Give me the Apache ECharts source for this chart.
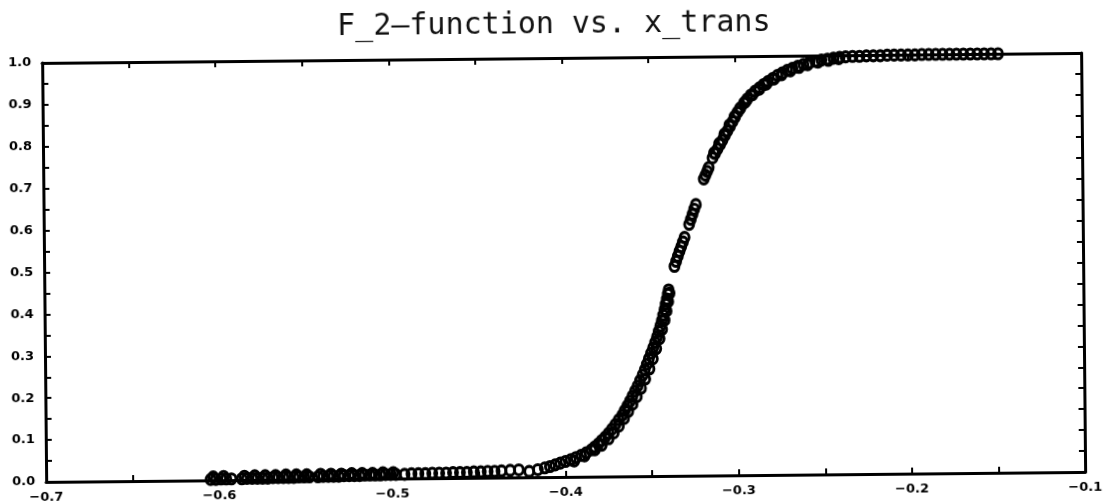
<!DOCTYPE html>
<html>
<head>
<meta charset="utf-8">
<script src="https://cdn.jsdelivr.net/npm/echarts@6/dist/echarts.min.js"></script>
<style>
  html, body { margin: 0; padding: 0; background: #fff; overflow: hidden; }
  /* the scanned original sits slightly tilted */
  #chart { width: 1112px; height: 504px; transform: rotate(-0.55deg); }
</style>
</head>
<body>
<div id="chart"></div>
<script>
// x_trans values (tail, rise, upper shoulder, then the second strand of the band)
var xTrans = [
  -0.605, -0.602, -0.599, -0.596, -0.593, -0.587, -0.584, -0.581, -0.578, -0.575,
  -0.572, -0.569, -0.566, -0.563, -0.560, -0.557, -0.554, -0.551, -0.548, -0.543,
  -0.540, -0.537, -0.534, -0.531, -0.528, -0.525, -0.522, -0.519, -0.516, -0.513,
  -0.510, -0.507, -0.504, -0.501, -0.498, -0.493, -0.489, -0.485, -0.481, -0.477,
  -0.473, -0.469, -0.465, -0.461, -0.457, -0.453, -0.449, -0.445, -0.441, -0.437,
  -0.432, -0.427, -0.421, -0.416,
  -0.412, -0.409, -0.406, -0.403, -0.400, -0.397, -0.394, -0.391, -0.388, -0.385,
  -0.383, -0.381, -0.379, -0.377, -0.375, -0.373, -0.371, -0.369, -0.367, -0.3655,
  -0.364, -0.3625, -0.361, -0.3595, -0.358, -0.3565, -0.355, -0.3537, -0.3525, -0.3513,
  -0.350, -0.3488, -0.3476, -0.3465, -0.3455, -0.3445, -0.3436, -0.3428, -0.342, -0.3413,
  -0.3406, -0.340, -0.3395,
  -0.336, -0.335, -0.334, -0.333, -0.332, -0.331, -0.330,
  -0.3273, -0.3263, -0.3253, -0.3243, -0.3233,
  -0.3186, -0.3176, -0.3166, -0.3157,
  -0.3134, -0.3120, -0.3105, -0.3090, -0.3076, -0.3062, -0.3047, -0.3032, -0.3017, -0.3002,
  -0.2988, -0.2970, -0.2950, -0.2930, -0.2910, -0.2885, -0.2860, -0.2835, -0.2810, -0.2783,
  -0.2755, -0.2727, -0.2698, -0.2668, -0.2636, -0.2604, -0.2570, -0.2535, -0.2500, -0.2465,
  -0.2430, -0.2395, -0.2360, -0.2320, -0.228, -0.224, -0.220, -0.216, -0.212, -0.208,
  -0.204, -0.200, -0.196, -0.192, -0.188, -0.184, -0.180, -0.176, -0.172, -0.168,
  -0.164, -0.160, -0.156, -0.152, -0.148,
  -0.6035, -0.5975, -0.5855, -0.5795, -0.5735, -0.5675, -0.5615, -0.5555, -0.5495, -0.5415,
  -0.5355, -0.5295, -0.5235, -0.5175, -0.5115, -0.5055, -0.4995,
  -0.395, -0.389, -0.383, -0.379, -0.375, -0.372, -0.369, -0.366, -0.3635, -0.361,
  -0.3585, -0.356, -0.3535, -0.351, -0.349, -0.347, -0.345, -0.3435, -0.342, -0.3408,
  -0.3398, -0.339,
  -0.3125, -0.3095, -0.3065, -0.3035, -0.3005, -0.2975, -0.294, -0.290, -0.286, -0.282,
  -0.2775, -0.273, -0.268, -0.263, -0.258, -0.252, -0.246, -0.240
];
// F_2 values at those points
var f2 = [
  0.002, 0.002, 0.003, 0.003, 0.003, 0.003, 0.004, 0.004, 0.004, 0.004,
  0.004, 0.005, 0.005, 0.005, 0.005, 0.005, 0.006, 0.006, 0.006, 0.006,
  0.007, 0.007, 0.007, 0.007, 0.008, 0.008, 0.008, 0.008, 0.009, 0.009,
  0.009, 0.009, 0.010, 0.010, 0.010, 0.010, 0.011, 0.011, 0.011, 0.012,
  0.012, 0.012, 0.013, 0.013, 0.013, 0.014, 0.014, 0.015, 0.015, 0.016,
  0.017, 0.018, 0.014, 0.018,
  0.022, 0.025, 0.029, 0.033, 0.037, 0.041, 0.046, 0.051, 0.057, 0.064,
  0.071, 0.078, 0.086, 0.094, 0.103, 0.113, 0.124, 0.135, 0.146, 0.157,
  0.168, 0.179, 0.191, 0.203, 0.215, 0.228, 0.241, 0.254, 0.267, 0.280,
  0.293, 0.306, 0.319, 0.332, 0.345, 0.358, 0.371, 0.384, 0.397, 0.410,
  0.422, 0.434, 0.444,
  0.500, 0.512, 0.524, 0.536, 0.547, 0.558, 0.569,
  0.600, 0.612, 0.624, 0.636, 0.647,
  0.708, 0.717, 0.726, 0.735,
  0.758, 0.768, 0.779, 0.790, 0.800, 0.811, 0.822, 0.833, 0.844, 0.855,
  0.866, 0.877, 0.888, 0.898, 0.907, 0.916, 0.924, 0.932, 0.939, 0.946,
  0.953, 0.959, 0.965, 0.970, 0.975, 0.979, 0.983, 0.986, 0.989, 0.991,
  0.993, 0.995, 0.996, 0.997, 0.997, 0.998, 0.998, 0.998, 0.999, 0.999,
  0.999, 0.999, 0.999, 1.000, 1.000, 1.000, 1.000, 1.000, 1.000, 1.000,
  1.000, 1.000, 1.000, 1.000, 1.000,
  0.008, 0.009, 0.009, 0.010, 0.010, 0.010, 0.011, 0.011, 0.011, 0.012,
  0.012, 0.012, 0.013, 0.013, 0.013, 0.014, 0.014,
  0.038, 0.050, 0.064, 0.075, 0.090, 0.104, 0.120, 0.138, 0.155, 0.172,
  0.190, 0.210, 0.232, 0.256, 0.280, 0.304, 0.328, 0.350, 0.372, 0.394,
  0.416, 0.436,
  0.770, 0.792, 0.814, 0.836, 0.856, 0.874, 0.892, 0.908, 0.921, 0.933,
  0.945, 0.955, 0.964, 0.972, 0.978, 0.984, 0.988, 0.992
];

var points = [];
for (var i = 0; i < xTrans.length; i++) {
  points.push([xTrans[i], f2[i]]);
}

var myChart = echarts.init(document.getElementById('chart'));

var labelStyle = {
  color: '#000',
  fontFamily: 'DejaVu Sans',
  fontWeight: 'bold',
  fontSize: 13
};
function fmt(v) {
  return v.toFixed(1).replace('-', '\u2212');
}
// one side of the frame: same scale, inward ticks, optional labels
function frameAxis(pos, min, max, showLabel, margin) {
  return {
    type: 'value',
    position: pos,
    min: min,
    max: max,
    interval: 0.1,
    axisLine: { show: true, onZero: false, lineStyle: { color: '#000', width: 3 } },
    axisTick: { show: true, inside: true, length: 6, lineStyle: { color: '#000', width: 2 } },
    minorTick: { show: true, splitNumber: 2, length: 6, lineStyle: { color: '#000', width: 2 } },
    splitLine: { show: false },
    axisLabel: Object.assign({ show: showLabel, margin: margin, formatter: fmt }, labelStyle)
  };
}

option = {
  animation: false,
  backgroundColor: '#fff',
  title: {
    text: 'F_2\u2014function vs. x_trans',
    left: 'center',
    top: 5,
    textStyle: {
      fontFamily: 'DejaVu Sans Mono',
      fontWeight: 'normal',
      fontSize: 30,
      color: '#111'
    }
  },
  grid: { left: 44, right: 29, top: 58, bottom: 27 },
  xAxis: [
    frameAxis('bottom', -0.7, -0.1, true, 9),
    frameAxis('top', -0.7, -0.1, false, 9)
  ],
  yAxis: [
    frameAxis('left', 0, 1, true, 11),
    frameAxis('right', 0, 1, false, 11)
  ],
  series: [{
    type: 'scatter',
    xAxisIndex: 0,
    yAxisIndex: 0,
    clip: false,
    data: points,
    symbol: 'circle',
    symbolSize: [9, 10],
    itemStyle: {
      color: 'transparent',
      borderColor: '#000',
      borderWidth: 3,
      opacity: 1
    }
  }]
};

myChart.setOption(option);
</script>
</body>
</html>
